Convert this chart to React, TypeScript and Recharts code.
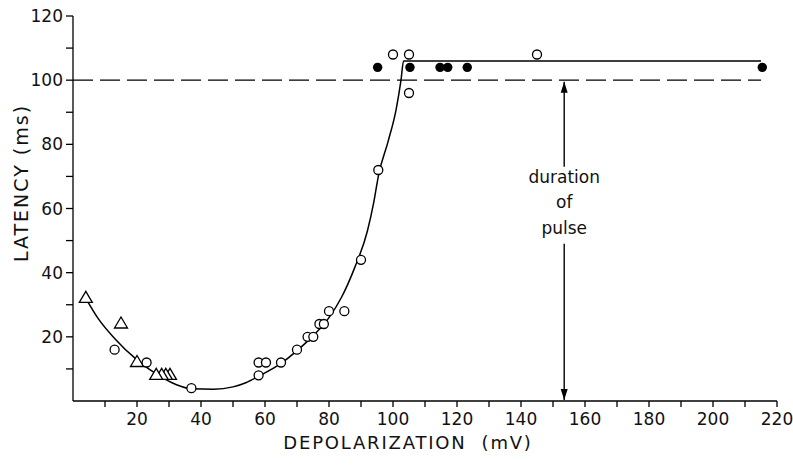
import React from 'react';
import {
  ComposedChart,
  Line,
  Scatter,
  XAxis,
  YAxis,
  ReferenceLine,
  ReferenceDot,
} from 'recharts';

// fitted curve
const curveX = [4, 8, 13, 20, 27, 32, 37, 44, 50, 54, 58, 65, 70, 75, 80, 84, 88, 92, 94, 95.5, 98.5, 101, 102.5, 103.3, 110, 215];
const curveY = [32, 25.5, 19.5, 12.8, 7.8, 5.2, 3.8, 3.7, 4.4, 5.7, 7.7, 11.7, 15.7, 20.3, 26, 32.5, 41.5, 53, 62, 70.5, 81, 91, 100, 106, 106, 106];

// open circles
const openX = [13, 23, 37, 58, 60.3, 58, 65, 70, 73.3, 75.1, 77, 78.4, 80, 84.8, 90, 95.4, 100, 105, 105, 145];
const openY = [16, 12, 4, 12, 12, 8, 12, 16, 20, 20, 24, 24, 28, 28, 44, 72, 108, 108, 96, 108];

// filled circles
const filledX = [95.2, 105.3, 114.7, 117.1, 123.2, 215.4];
const filledY = [104, 104, 104, 104, 104, 104];

// triangles
const triX = [4, 15, 20, 30.3, 29, 27.7, 26];
const triY = [32, 24, 12, 8, 8, 8, 8];

// dashed "duration of pulse" level
const pulseX = [0, 215];
const pulseY = [100, 100];

const pulseAt = 153.5;

const xTicks = [10, 20, 30, 40, 50, 60, 70, 80, 90, 100, 110, 120, 130, 140, 150, 160, 170, 180, 190, 200, 210, 220];
const yTicks = [10, 20, 30, 40, 50, 60, 70, 80, 90, 100, 110, 120];

const toPts = (xs: number[], ys: number[]) => xs.map((x, i) => ({ x, y: ys[i] }));

const FONT = 'DejaVu Sans, sans-serif';

const OpenCircle = (p: any) => (
  <circle cx={p.cx} cy={p.cy} r={4.5} fill="#fff" stroke="#000" strokeWidth={1.3} />
);
const FilledCircle = (p: any) => <circle cx={p.cx} cy={p.cy} r={4.7} fill="#000" />;
const Triangle = (p: any) => (
  <polygon
    points={`${p.cx},${p.cy - 7} ${p.cx - 6.5},${p.cy + 4} ${p.cx + 6.5},${p.cy + 4}`}
    fill="#fff"
    stroke="#000"
    strokeWidth={1.3}
  />
);

const XTick = (props: any) => {
  const { x, y, payload } = props;
  if (payload.value % 20 !== 0) return <g />;
  return (
    <text x={x} y={y + 16} textAnchor="middle" fontFamily={FONT} fontSize={17} fill="#111">
      {payload.value}
    </text>
  );
};

const YTick = (props: any) => {
  const { x, y, payload } = props;
  if (payload.value % 20 !== 0) return <g />;
  return (
    <text x={x} y={y + 6} textAnchor="end" fontFamily={FONT} fontSize={17} fill="#111">
      {payload.value}
    </text>
  );
};

/* vertical arrow, head drawn at the second point of the segment */
const Arrow = (p: any) => {
  const { x1, y1, x2, y2 } = p;
  const dir = y2 > y1 ? 1 : -1;
  return (
    <g>
      <line x1={x1} y1={y1} x2={x2} y2={y2} stroke="#000" strokeWidth={1.4} />
      <polygon
        points={`${x2},${y2} ${x2 - 3.5},${y2 - dir * 11} ${x2 + 3.5},${y2 - dir * 11}`}
        fill="#000"
      />
    </g>
  );
};

const PulseText = (p: any) => (
  <text x={p.cx} y={p.cy} textAnchor="middle" fontFamily={FONT} fontSize={17} fill="#111">
    <tspan x={p.cx} dy={-20}>duration</tspan>
    <tspan x={p.cx} dy={25}>of</tspan>
    <tspan x={p.cx} dy={26}>pulse</tspan>
  </text>
);

export default function App() {
  return (
    <div style={{ width: 793, height: 466, background: '#fff' }}>
      <style>{'body{margin:0}'}</style>
      <ComposedChart width={793} height={466} margin={{ top: 16, right: 16, bottom: 0, left: 0 }}>
        <XAxis
          type="number"
          dataKey="x"
          domain={[0, 220]}
          ticks={xTicks}
          interval={0}
          allowDataOverflow
          stroke="#000"
          strokeWidth={1.3}
          tickSize={6}
          tickMargin={2}
          tick={<XTick />}
          height={65}
          label={{
            content: ({ viewBox }: any) => (
              <text
                x={viewBox.x + viewBox.width / 2 - 17}
                y={viewBox.y + 48}
                textAnchor="middle"
                fontFamily={FONT}
                fontSize={18}
                letterSpacing={1.8}
                fill="#111"
              >
                {'DEPOLARIZATION\u00a0\u00a0(mV)'}
              </text>
            ),
          }}
        />
        <YAxis
          type="number"
          domain={[0, 120]}
          ticks={yTicks}
          interval={0}
          allowDataOverflow
          stroke="#000"
          strokeWidth={1.3}
          tickSize={7}
          tickMargin={3}
          tick={<YTick />}
          width={73}
          label={{
            content: () => (
              <text
                x={28}
                y={183}
                transform="rotate(-90 28 183)"
                textAnchor="middle"
                fontFamily={FONT}
                fontSize={19}
                letterSpacing={2}
                fill="#111"
              >
                LATENCY (ms)
              </text>
            ),
          }}
        />
        <Line
          data={toPts(pulseX, pulseY)}
          dataKey="y"
          type="linear"
          stroke="#000"
          strokeWidth={1.3}
          strokeDasharray="20 7"
          dot={false}
          activeDot={false}
          isAnimationActive={false}
        />
        <Line
          data={toPts(curveX, curveY)}
          dataKey="y"
          type="monotone"
          stroke="#000"
          strokeWidth={1.5}
          dot={false}
          activeDot={false}
          isAnimationActive={false}
        />
        <ReferenceLine segment={[{ x: pulseAt, y: 73 }, { x: pulseAt, y: 99.5 }]} shape={Arrow} />
        <ReferenceLine segment={[{ x: pulseAt, y: 49 }, { x: pulseAt, y: 0.3 }]} shape={Arrow} />
        <ReferenceDot x={pulseAt} y={61.7} shape={PulseText} />
        <Scatter data={toPts(triX, triY)} dataKey="y" shape={Triangle} isAnimationActive={false} />
        <Scatter data={toPts(openX, openY)} dataKey="y" shape={OpenCircle} isAnimationActive={false} />
        <Scatter data={toPts(filledX, filledY)} dataKey="y" shape={FilledCircle} isAnimationActive={false} />
      </ComposedChart>
    </div>
  );
}
